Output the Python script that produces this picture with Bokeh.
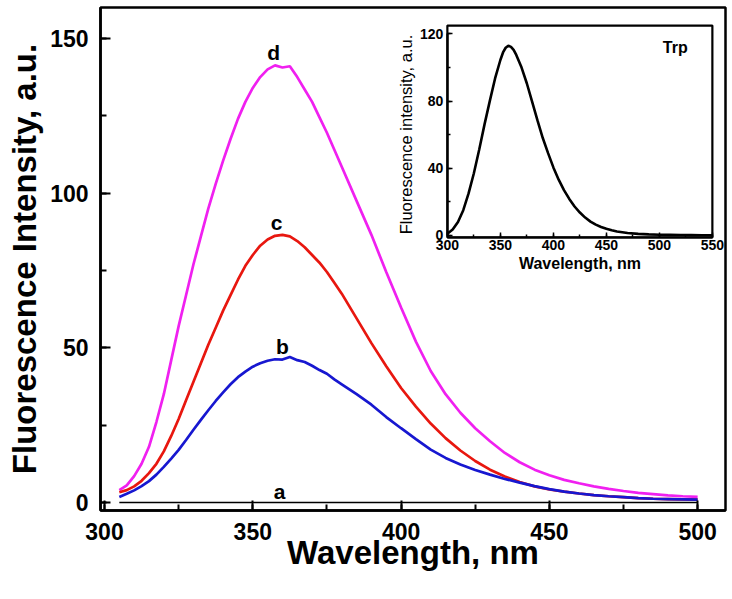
from bokeh.plotting import figure
from bokeh.models import Range1d, LinearAxis, SingleIntervalTicker, Label
from bokeh.embed import file_html
from bokeh.resources import INLINE
from bokeh.core.properties import value

# ---------------- data ----------------
wavelength = [305, 307.5, 310, 312.5, 315, 317.5, 320, 322.5, 325, 327.5,
              330, 332.5, 335, 337.5, 340, 342.5, 345, 347.5, 350, 352.5,
              355, 357.5, 360, 362.5, 365, 367.5, 370, 372.5, 375, 377.5,
              380, 385, 390, 395, 400, 405, 410, 415, 420, 425,
              430, 435, 440, 445, 450, 455, 460, 465, 470, 475,
              480, 485, 490, 495, 500]

curve_a = [0.0, 0.0, 0.0, 0.0, 0.0, 0.0, 0.0, 0.0, 0.0, 0.0,
           0.0, 0.0, 0.0, 0.0, 0.0, 0.0, 0.0, 0.0, 0.0, 0.0,
           0.0, 0.0, 0.0, 0.0, 0.0, 0.0, 0.0, 0.0, 0.0, 0.0,
           0.0, 0.0, 0.0, 0.0, 0.0, 0.0, 0.0, 0.0, 0.0, 0.0,
           0.0, 0.0, 0.0, 0.0, 0.0, 0.0, 0.0, 0.0, 0.0, 0.0,
           0.0, 0.0, 0.0, 0.0, 0.0]

curve_b = [1.8, 2.8, 3.9, 5.3, 6.9, 9.0, 11.5, 14.2, 17.0, 20.2,
           23.5, 26.7, 29.8, 32.8, 35.6, 38.2, 40.5, 42.3, 43.9, 45.0,
           45.8, 46.3, 46.2, 47.0, 46.0, 45.4, 44.2, 42.8, 41.6, 39.8,
           38.2, 35.0, 31.6, 27.6, 24.0, 20.5, 17.1, 14.4, 12.3, 10.5,
           9.0, 7.6, 6.4, 5.3, 4.3, 3.5, 2.9, 2.4, 2.0, 1.7,
           1.4, 1.2, 1.1, 1.0, 0.9]

curve_c = [3.3, 4.0, 5.2, 7.0, 9.5, 12.5, 16.5, 21.5, 27.0, 33.0,
           39.0, 45.0, 51.0, 56.5, 62.0, 67.0, 72.0, 76.5, 80.0, 83.0,
           85.0, 86.2, 86.5, 86.0, 84.5, 82.5, 80.0, 77.5, 74.5, 71.0,
           67.5, 59.5, 51.5, 44.0, 37.0, 31.0, 25.5, 20.8, 16.8, 13.4,
           10.6, 8.4, 6.6, 5.2, 4.2, 3.5, 2.9, 2.4, 2.0, 1.7,
           1.4, 1.2, 1.1, 1.0, 0.9]

curve_d = [4.0, 5.5, 8.5, 12.5, 18.0, 26.0, 35.0, 46.0, 57.0, 67.0,
           77.0, 86.0, 95.0, 103.0, 110.5, 117.5, 124.0, 129.5, 134.0, 137.5,
           140.0, 141.3, 140.6, 141.0, 137.5, 133.5, 129.5, 124.5, 119.5, 114.0,
           108.5, 97.5, 86.5, 74.5, 63.0, 52.0, 42.5, 35.0, 29.0, 24.0,
           19.8, 16.0, 13.0, 10.6, 8.8, 7.3, 6.2, 5.2, 4.4, 3.7,
           3.1, 2.7, 2.3, 2.0, 1.8]

curve_names = ["a", "b", "c", "d"]
curve_label_x = [359, 360, 358, 357]
curve_label_y = [3.6, 50.5, 90.6, 145.3]

trp_wavelength = [300, 305, 310, 315, 320, 325, 330, 335, 340, 345,
                  350, 352.5, 355, 357.5, 360, 362.5, 365, 370, 375, 380,
                  385, 390, 395, 400, 405, 410, 415, 420, 425, 430,
                  435, 440, 445, 450, 455, 460, 470, 480, 490, 500,
                  510, 520, 530, 540, 550]
trp_intensity = [1.0, 3.5, 8.0, 15.0, 25.0, 37.0, 51.0, 66.0, 80.0, 93.5,
                 104.5, 109.0, 111.8, 113.0, 112.3, 110.5, 107.5, 100.0, 90.5, 79.5,
                 68.5, 58.0, 49.0, 40.5, 33.2, 27.0, 21.7, 17.2, 13.6, 10.6,
                 8.2, 6.4, 5.0, 3.9, 3.0, 2.3, 1.4, 0.9, 0.6, 0.4,
                 0.3, 0.2, 0.15, 0.1, 0.1]

main_x_ticks_interval = 50
main_y_ticks_interval = 50
inset_x_ticks_interval = 50
inset_y_ticks_interval = 40

# ---------------- styling constants ----------------
FONT = "Liberation Sans"
COL_A = "black"
COL_B = "#1717d0"
COL_C = "#e8170f"
COL_D = "#f020f0"

# ---------------- main figure ----------------
p = figure(width=732, height=599,
           x_range=Range1d(298.65, 509.4), y_range=Range1d(-2.6, 160),
           output_backend="svg", toolbar_location=None,
           min_border_left=100, min_border_right=7, min_border_top=7,
           min_border_bottom=89)
p.grid.visible = False
p.outline_line_color = "black"
p.outline_line_width = 2.5
p.outline_line_alpha = 1.0
p.background_fill_color = "white"
p.border_fill_color = "white"

for ax in (p.xaxis[0], p.yaxis[0]):
    ax.axis_line_width = 2.5
    ax.major_tick_in = 10
    ax.major_tick_out = 0
    ax.minor_tick_in = 6
    ax.minor_tick_out = 0
    ax.major_tick_line_width = 2
    ax.minor_tick_line_width = 2
    ax.major_label_text_font = FONT
    ax.major_label_text_font_style = "bold"
    ax.major_label_text_font_size = "23px"
    ax.major_label_text_color = "black"
    ax.axis_label_text_font = FONT
    ax.axis_label_text_font_style = "bold"
    ax.axis_label_text_font_size = "33px"
    ax.axis_label_text_color = "black"

p.xaxis[0].ticker = SingleIntervalTicker(interval=main_x_ticks_interval, num_minor_ticks=2)
p.yaxis[0].ticker = SingleIntervalTicker(interval=main_y_ticks_interval, num_minor_ticks=2)
p.xaxis[0].axis_label = "Wavelength, nm"
p.yaxis[0].axis_label = "Fluorescence Intensity, a.u."
p.xaxis[0].major_label_standoff = 12
p.xaxis[0].axis_label_standoff = -9
p.yaxis[0].major_label_standoff = 12
p.yaxis[0].axis_label_standoff = 4

p.line(wavelength, curve_d, line_color=COL_D, line_width=2.7)
p.line(wavelength, curve_c, line_color=COL_C, line_width=2.7)
p.line(wavelength, curve_b, line_color=COL_B, line_width=2.7)
p.line(wavelength, curve_a, line_color=COL_A, line_width=1.6)

p.text(x=curve_label_x, y=curve_label_y, text=curve_names,
       text_font=value(FONT), text_font_style="bold", text_font_size="21px",
       text_align="center", text_baseline="middle", text_color="black")

# ---------------- inset (drawn on extra ranges inside the main frame) ----------------
ix_lo, ix_hi = 300, 550
iy_lo, iy_hi = -1.2, 125
fx0, fx1 = 0.555, 0.979   # inset frame as fraction of main frame (x)
fy0, fy1 = 0.543, 0.964   # inset frame as fraction of main frame (y, from bottom)
span_x = (ix_hi - ix_lo) / (fx1 - fx0)
span_y = (iy_hi - iy_lo) / (fy1 - fy0)
ix_start = ix_lo - fx0 * span_x
iy_start = iy_lo - fy0 * span_y
p.extra_x_ranges = {"ix": Range1d(ix_start, ix_start + span_x)}
p.extra_y_ranges = {"iy": Range1d(iy_start, iy_start + span_y)}

p.quad(left=[ix_lo], right=[ix_hi], bottom=[iy_lo], top=[iy_hi],
       x_range_name="ix", y_range_name="iy",
       fill_color="white", line_color="black", line_width=2.2)

p.line(trp_wavelength, trp_intensity, x_range_name="ix", y_range_name="iy",
       line_color="black", line_width=2.6)

ax_ix = LinearAxis(x_range_name="ix", y_range_name="iy", fixed_location=iy_lo,
                   bounds=(ix_lo, ix_hi),
                   ticker=SingleIntervalTicker(interval=inset_x_ticks_interval, num_minor_ticks=2),
                   axis_label="Wavelength, nm")
ax_iy = LinearAxis(x_range_name="ix", y_range_name="iy", fixed_location=ix_lo,
                   bounds=(0, 120),
                   ticker=SingleIntervalTicker(interval=inset_y_ticks_interval, num_minor_ticks=2),
                   axis_label="Fluorescence intensity, a.u.")
for ax in (ax_ix, ax_iy):
    ax.axis_line_width = 2.2
    ax.major_tick_in = 5
    ax.major_tick_out = 0
    ax.minor_tick_in = 3
    ax.minor_tick_out = 0
    ax.major_tick_line_width = 1.5
    ax.minor_tick_line_width = 1.5
    ax.major_label_text_font = FONT
    ax.major_label_text_font_style = "bold"
    ax.major_label_text_font_size = "14px"
    ax.major_label_text_color = "black"
    ax.axis_label_text_font = FONT
    ax.axis_label_text_color = "black"
ax_ix.axis_label_text_font_style = "bold"
ax_ix.axis_label_text_font_size = "16px"
ax_ix.major_label_standoff = 3
ax_ix.axis_label_standoff = 1
ax_iy.axis_label_text_font_style = "normal"
ax_iy.axis_label_text_font_size = "16.5px"
ax_iy.major_label_standoff = 4
ax_iy.axis_label_standoff = 2
p.add_layout(ax_ix, "below")
p.add_layout(ax_iy, "left")

p.add_layout(Label(x=515, y=112, x_range_name="ix", y_range_name="iy", text="Trp",
                   text_font=FONT, text_font_style="bold", text_font_size="16px",
                   text_align="center", text_baseline="middle", text_color="black"))

open("out.html", "w").write(file_html(p, INLINE))
